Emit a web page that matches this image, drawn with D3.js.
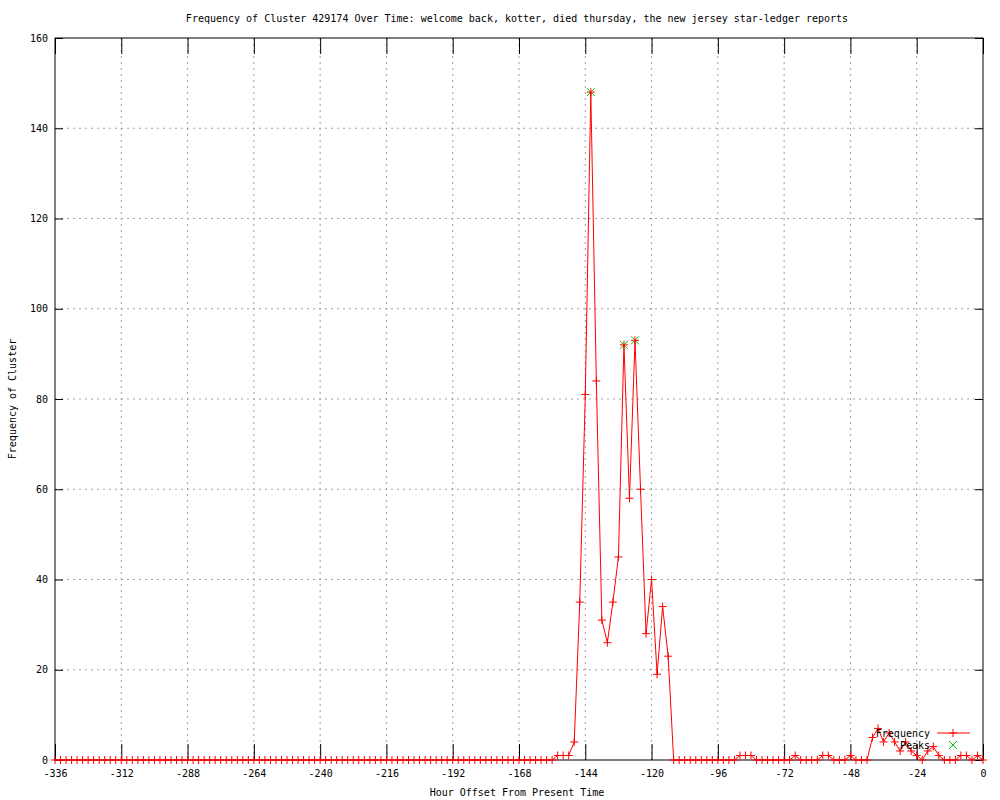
<!DOCTYPE html>
<html lang="en">
<head>
<meta charset="UTF-8">
<title>Frequency of Cluster 429174</title>
<script src="https://d3js.org/d3.v7.min.js"></script>
<style>
  body { margin: 0; background: #fff; }
  text { font-family: "DejaVu Sans Mono", monospace; font-size: 10px; fill: #000; }
</style>
</head>
<body>
<div id="chart"></div>
<script>
// hours before present, one sample every 2 hours
const hours = d3.range(-336, 1, 2);

// frequency per sample (from -336 up to 0)
const freq = [
  0,0,0,0,0,0,0,0,0,0,0,0,   // -336 .. -314
  0,0,0,0,0,0,0,0,0,0,0,0,   // -312 .. -290
  0,0,0,0,0,0,0,0,0,0,0,0,   // -288 .. -266
  0,0,0,0,0,0,0,0,0,0,0,0,   // -264 .. -242
  0,0,0,0,0,0,0,0,0,0,0,0,   // -240 .. -218
  0,0,0,0,0,0,0,0,0,0,0,0,   // -216 .. -194
  0,0,0,0,0,0,0,0,0,0,0,0,   // -192 .. -170
  0,0,0,0,                   // -168 .. -162
  0,0,0,1,1,1,4,35,81,148,   // -160 .. -142
  84,31,26,35,45,92,58,93,60,28, // -140 .. -122
  40,19,34,23,0,0,0,0,0,0,   // -120 .. -102
  0,0,0,0,0,0,1,1,1,0,       // -100 .. -82
  0,0,0,0,0,0,1,0,0,0,       // -80 .. -62
  0,1,1,0,0,0,1,0,0,0,       // -60 .. -42
  5,7,4,6,4,2,4,2,1,0,       // -40 .. -22
  2,3,1,0,0,0,1,1,0,1,       // -20 .. -2
  0                          // 0
];

const peakHours = [-142, -130, -126];
const peakValues = [148, 92, 93];

const xTicks = [-336, -312, -288, -264, -240, -216, -192, -168, -144, -120, -96, -72, -48, -24, 0];
const yTicks = [0, 20, 40, 60, 80, 100, 120, 140, 160];

const data = hours.map((h, i) => ({ h: h, v: freq[i] }));
const peaks = peakHours.map((h, i) => ({ h: h, v: peakValues[i] }));

const margin = { top: 38, right: 17, bottom: 40, left: 55 },
  width = 1000 - margin.left - margin.right,
  height = 800 - margin.top - margin.bottom;

const root = d3.select("#chart")
  .append("svg")
  .attr("width", 1000)
  .attr("height", 800);

const svg = root.append("g")
  .attr("transform", `translate(${margin.left},${margin.top})`);

const x = d3.scaleLinear().domain([-336, 0]).range([0, width]);
const y = d3.scaleLinear().domain([0, 160]).range([height, 0]);

// grid
svg.append("g")
  .selectAll("line.vg")
  .data(xTicks.slice(1, -1))
  .join("line")
  .attr("x1", d => x(d)).attr("x2", d => x(d))
  .attr("y1", 0).attr("y2", height)
  .attr("stroke", "#a0a0a0")
  .attr("stroke-dasharray", "2,4");

svg.append("g")
  .selectAll("line.hg")
  .data(yTicks.slice(1, -1))
  .join("line")
  .attr("x1", 0).attr("x2", width)
  .attr("y1", d => y(d)).attr("y2", d => y(d))
  .attr("stroke", "#a0a0a0")
  .attr("stroke-dasharray", "2,4");

// axes, ticks pointing inward like gnuplot
svg.append("g")
  .attr("transform", `translate(0,${height})`)
  .call(d3.axisBottom(x).tickValues(xTicks).tickSizeInner(-16).tickSizeOuter(0).tickPadding(10)
    .tickFormat(d => String(d)));
svg.append("g")
  .call(d3.axisTop(x).tickValues(xTicks).tickSizeInner(-16).tickSizeOuter(0).tickFormat(""));
svg.append("g")
  .call(d3.axisLeft(y).tickValues(yTicks).tickSizeInner(-8).tickSizeOuter(0).tickPadding(7));
svg.append("g")
  .attr("transform", `translate(${width},0)`)
  .call(d3.axisRight(y).tickValues(yTicks).tickSizeInner(-8).tickSizeOuter(0).tickFormat(""));

svg.selectAll(".domain").remove();
svg.selectAll(".tick line").attr("stroke", "#000");
svg.selectAll(".tick text").style("font-family", "DejaVu Sans Mono, monospace").style("font-size", "10px");

// border
svg.append("rect")
  .attr("width", width).attr("height", height)
  .attr("fill", "none").attr("stroke", "#000");

// frequency line
svg.append("path")
  .datum(data)
  .attr("fill", "none")
  .attr("stroke", "#ff0000")
  .attr("stroke-width", 1)
  .attr("d", d3.line().x(d => x(d.h)).y(d => y(d.v)));

// peak markers (x)
svg.append("g")
  .selectAll("path")
  .data(peaks)
  .join("path")
  .attr("transform", d => `translate(${x(d.h)},${y(d.v)})`)
  .attr("d", "M-4,-4L4,4M-4,4L4,-4")
  .attr("stroke", "#00c000")
  .attr("fill", "none");

// frequency markers (+)
svg.append("g")
  .selectAll("path")
  .data(data)
  .join("path")
  .attr("transform", d => `translate(${x(d.h)},${y(d.v)})`)
  .attr("d", "M-4,0H4M0,-4V4")
  .attr("stroke", "#ff0000")
  .attr("fill", "none");

// legend
const ly1 = 733 - margin.top, ly2 = 745 - margin.top;
const lg = svg.append("g").attr("transform", `translate(${875 - margin.left},0)`);
lg.append("text").attr("x", 55).attr("y", ly1).attr("dy", "0.35em")
  .attr("text-anchor", "end").text("Frequency");
lg.append("line").attr("x1", 62).attr("x2", 95)
  .attr("y1", ly1).attr("y2", ly1)
  .attr("stroke", "#ff0000");
lg.append("path").attr("transform", `translate(78,${ly1})`)
  .attr("d", "M-4,0H4M0,-4V4").attr("stroke", "#ff0000");
lg.append("text").attr("x", 55).attr("y", ly2).attr("dy", "0.35em")
  .attr("text-anchor", "end").text("Peaks");
lg.append("path").attr("transform", `translate(78,${ly2})`)
  .attr("d", "M-4,-4L4,4M-4,4L4,-4").attr("stroke", "#00c000");

// titles
root.append("text")
  .attr("x", 517).attr("y", 22)
  .attr("text-anchor", "middle")
  .text("Frequency of Cluster 429174 Over Time: welcome back, kotter, died thursday, the new jersey star-ledger reports");

root.append("text")
  .attr("x", 517).attr("y", 796)
  .attr("text-anchor", "middle")
  .text("Hour Offset From Present Time");

root.append("text")
  .attr("transform", "translate(16,399) rotate(-90)")
  .attr("text-anchor", "middle")
  .text("Frequency of Cluster");
</script>
</body>
</html>
